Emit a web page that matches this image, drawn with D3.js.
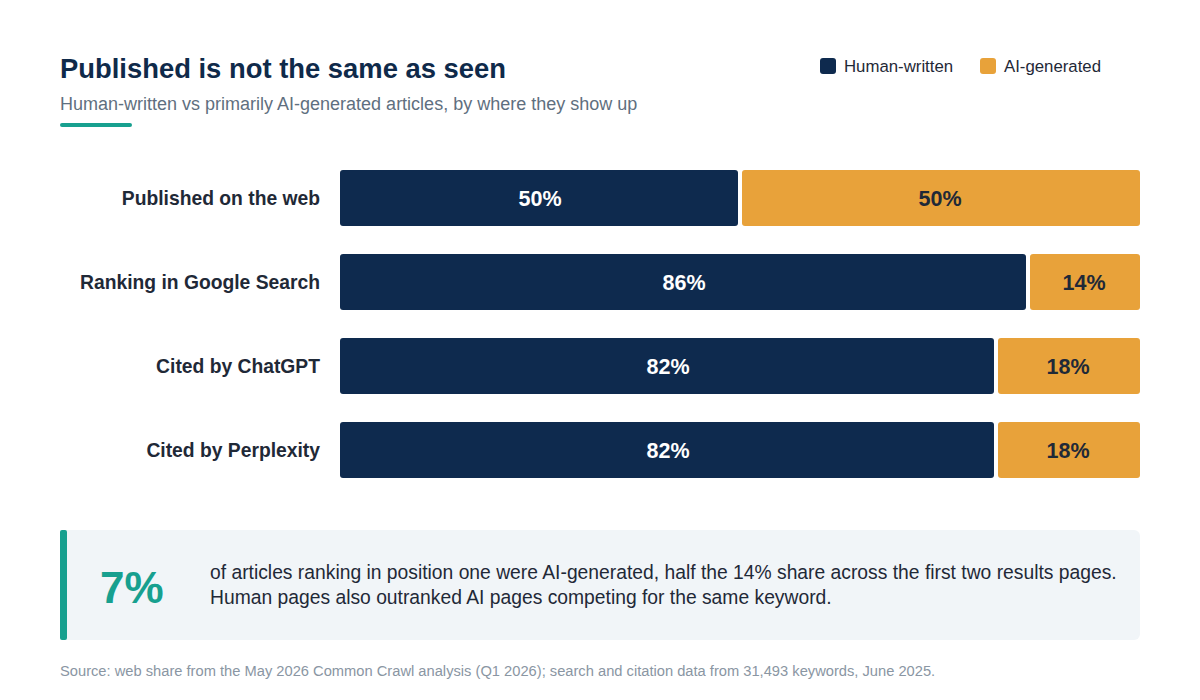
<!DOCTYPE html>
<html><head><meta charset="utf-8">
<script src="https://cdn.jsdelivr.net/npm/d3@7"></script>
<style>body{margin:0;background:#fff;font-family:"Liberation Sans",Arial,sans-serif;}</style>
</head><body><svg id="c" width="1200" height="700"></svg>
<script>
const categories = ["Published on the web","Ranking in Google Search","Cited by ChatGPT","Cited by Perplexity"];
const human = [50,86,82,82];
const ai = [50,14,18,18];
const seriesNames = ["Human-written","AI-generated"];
const navy="#0e2a4e", orange="#e8a23a", teal="#17a08f";
const svg=d3.select("#c");
const F='"Liberation Sans",Arial,sans-serif';
svg.append("text").attr("x",60).attr("y",78).attr("font-size",27.4).attr("font-weight",700).attr("fill","#0f2a4a").attr("font-family",F).text("Published is not the same as seen");
svg.append("text").attr("x",60).attr("y",110).attr("font-size",18).attr("fill","#5f6f80").attr("font-family",F).text("Human-written vs primarily AI-generated articles, by where they show up");
svg.append("rect").attr("x",60).attr("y",123).attr("width",72).attr("height",4).attr("rx",2).attr("fill",teal);
[[820,navy,seriesNames[0]],[980,orange,seriesNames[1]]].forEach(([x,c,t])=>{
  svg.append("rect").attr("x",x).attr("y",58).attr("width",16).attr("height",16).attr("rx",3).attr("fill",c);
  svg.append("text").attr("x",x+24).attr("y",72).attr("font-size",16.8).attr("fill","#1f2937").attr("font-family",F).text(t);
});
const x=d3.scaleLinear().domain([0,100]).range([340,1140]);
const y=d3.scaleBand().domain(categories).range([170,478]).paddingInner(28/84).paddingOuter(0);
categories.forEach((c,i)=>{
  const yy=y(c), h=y.bandwidth();
  svg.append("text").attr("x",320).attr("y",yy+h/2).attr("dy","0.35em").attr("text-anchor","end").attr("font-size",19.3).attr("font-weight",700).attr("fill","#1f2937").attr("font-family",F).text(c);
  const xm=x(human[i]);
  svg.append("rect").attr("x",x(0)).attr("y",yy).attr("width",xm-2-x(0)).attr("height",h).attr("rx",3).attr("fill",navy);
  svg.append("rect").attr("x",xm+2).attr("y",yy).attr("width",x(100)-xm-2).attr("height",h).attr("rx",3).attr("fill",orange);
  svg.append("text").attr("x",(x(0)+xm)/2).attr("y",yy+h/2).attr("dy","0.35em").attr("text-anchor","middle").attr("font-size",21.5).attr("font-weight",700).attr("fill","#fff").attr("font-family",F).text(human[i]+"%");
  svg.append("text").attr("x",(xm+x(100))/2).attr("y",yy+h/2).attr("dy","0.35em").attr("text-anchor","middle").attr("font-size",21.5).attr("font-weight",700).attr("fill","#1f2937").attr("font-family",F).text(ai[i]+"%");
});
svg.append("rect").attr("x",60).attr("y",530).attr("width",1080).attr("height",110).attr("rx",6).attr("fill","#f1f5f8");
svg.append("rect").attr("x",60).attr("y",530).attr("width",7).attr("height",110).attr("rx",2).attr("fill",teal);
svg.append("text").attr("x",100).attr("y",603).attr("font-size",44).attr("font-weight",700).attr("fill",teal).attr("font-family",F).text("7%");
const lines=["of articles ranking in position one were AI-generated, half the 14% share across the first two results pages.","Human pages also outranked AI pages competing for the same keyword."];
lines.forEach((t,i)=>svg.append("text").attr("x",210).attr("y",579+i*25).attr("font-size",19.3).attr("fill","#1f2937").attr("font-family",F).text(t));
svg.append("text").attr("x",60).attr("y",676).attr("font-size",14.7).attr("fill","#8a96a3").attr("font-family",F).text("Source: web share from the May 2026 Common Crawl analysis (Q1 2026); search and citation data from 31,493 keywords, June 2025.");
</script></body></html>
